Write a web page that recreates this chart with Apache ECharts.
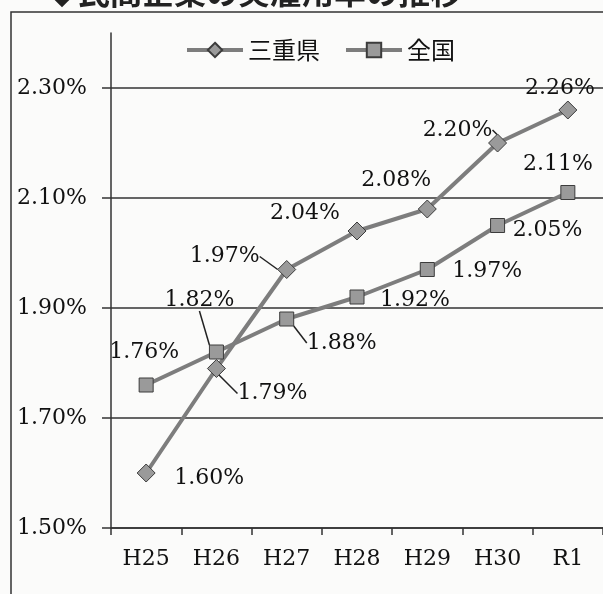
<!DOCTYPE html>
<html>
<head>
<meta charset="utf-8">
<script src="https://cdn.jsdelivr.net/npm/echarts@6/dist/echarts.min.js"></script>
<style>
html,body{margin:0;padding:0;background:#fbfbfa;}
#main{width:603px;height:594px;}
</style>
</head>
<body>
<div id="main"></div>
<script>
const categories = ['H25','H26','H27','H28','H29','H30','R1'];
const mieValues = [1.60, 1.79, 1.97, 2.04, 2.08, 2.20, 2.26];
const zenkokuValues = [1.76, 1.82, 1.88, 1.92, 1.97, 2.05, 2.11];
const seriesNames = ['三重県', '全国'];
const yTicks = [1.5, 1.7, 1.9, 2.1, 2.3];
const titleText = '◆民間企業の実雇用率の推移';

// label placement (offset of label centre from the point) – layout only
const labelOffsets = [
  [[63,5],[56,25],[-62,-13],[-52,-18],[-31,-29],[-40,-13],[-8,-22]],
  [[-2,-33],[-17,-52],[55,24],[58,3],[60,2],[50,5],[-10,-28]]
];
const leaderLines = [
  [false,true,true,false,false,true,false],
  [false,true,true,false,false,false,false]
];

const serif = 'DejaVu Serif';
const txt = '#111';

function mkData(vals, si){
  return vals.map((v,i)=>({value:v, labelLine:{show:leaderLines[si][i]}}));
}
function mkLayout(si){
  return function(p){
    const o = labelOffsets[si][p.dataIndex];
    const cx = p.rect.x + p.rect.width/2 + o[0];
    const cy = p.rect.y + p.rect.height/2 + o[1];
    return {
      dx: cx - (p.labelRect.x + p.labelRect.width/2),
      dy: cy - (p.labelRect.y + p.labelRect.height/2)
    };
  };
}

const chart = echarts.init(document.getElementById('main'));
const lineCommon = {
  type:'line',
  lineStyle:{color:'#7d7d7d', width:4},
  itemStyle:{color:'#9a9a9a', borderColor:'#3c3c3c', borderWidth:1},
  label:{show:true, position:'top', formatter:p=>p.value.toFixed(2)+'%',
         fontFamily:serif, fontSize:22, color:txt},
  labelLine:{show:true, lineStyle:{color:'#222', width:1.5}},
  emphasis:{disabled:true},
  animation:false
};
chart.setOption({
  backgroundColor:'#fbfbfa',
  animation:false,
  graphic:[
    {type:'rect', shape:{x:11,y:12,width:700,height:700},
     style:{fill:null, stroke:'#333', lineWidth:1.5}, silent:true},
    {type:'text', left:46, top:-24,
     style:{text:titleText, font:'bold 32px "Noto Sans CJK JP"', fill:'#222'}}
  ],
  legend:{
    left:180, top:33, itemWidth:56, itemHeight:18, itemGap:24,
    lineStyle:{width:4},
    textStyle:{fontFamily:'Noto Sans CJK JP', fontSize:24, color:txt},
    data:seriesNames
  },
  grid:{left:111, right:-8, top:33, bottom:66, containLabel:false},
  xAxis:{
    type:'category', data:categories, boundaryGap:true,
    axisLine:{lineStyle:{color:'#333', width:1.5}},
    axisTick:{show:true, length:7, lineStyle:{color:'#333', width:1.5}},
    axisLabel:{fontFamily:serif, fontSize:22, color:txt, margin:20}
  },
  yAxis:{
    type:'value', min:yTicks[0], max:2.4, interval:0.2,
    axisLine:{show:true, lineStyle:{color:'#333', width:1.5}},
    axisTick:{show:true, length:9, lineStyle:{color:'#333', width:1.5}},
    axisLabel:{fontFamily:serif, fontSize:22, color:txt, margin:24, showMaxLabel:false,
      formatter:v=>yTicks.some(t=>Math.abs(t-v)<1e-6)?v.toFixed(2)+'%':''},
    splitLine:{show:true, showMaxLine:false, lineStyle:{color:'#333', width:1.5}}
  },
  series:[
    Object.assign({}, lineCommon, {name:seriesNames[0], symbol:'diamond', symbolSize:18,
      data:mkData(mieValues,0), labelLayout:mkLayout(0)}),
    Object.assign({}, lineCommon, {name:seriesNames[1], symbol:'rect', symbolSize:14,
      data:mkData(zenkokuValues,1), labelLayout:mkLayout(1)})
  ]
});
</script>
</body>
</html>
